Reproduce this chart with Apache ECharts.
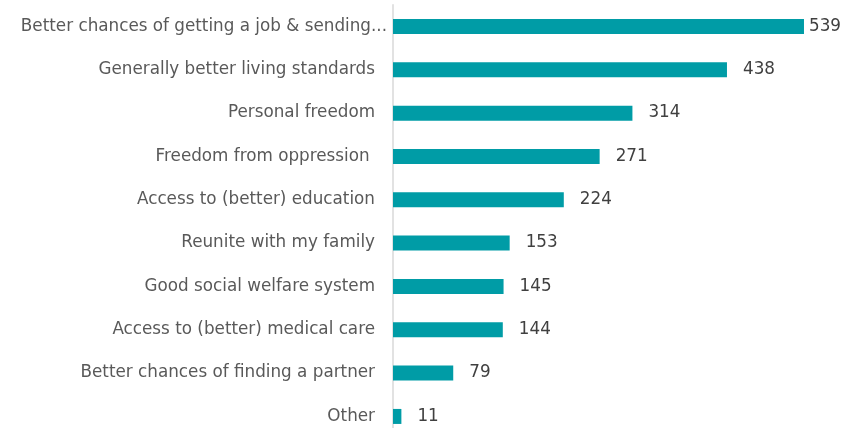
<!DOCTYPE html>
<html><head><meta charset="utf-8">
<script src="https://cdn.jsdelivr.net/npm/echarts@6/dist/echarts.min.js"></script>
<style>html,body{margin:0;padding:0;background:#fff;overflow:hidden}#c{width:863px;height:440px}</style>
</head><body><div id="c"></div>
<script>
const categories = [
  "Better chances of getting a job & sending...",
  "Generally better living standards",
  "Personal freedom",
  "Freedom from oppression ",
  "Access to (better) education",
  "Reunite with my family",
  "Good social welfare system",
  "Access to (better) medical care",
  "Better chances of finding a partner",
  "Other"
];
const values = [539, 438, 314, 271, 224, 153, 145, 144, 79, 11];

const FONT = 'DejaVu Sans';
const chart = echarts.init(document.getElementById('c'));
chart.setOption({
  animation: false,
  grid: { left: 393, top: 4.8, width: 457.5, height: 433.3, containLabel: false },
  xAxis: { type: 'value', min: 0, max: 600, show: false },
  yAxis: {
    type: 'category', inverse: true, data: categories.map((c, i) => i === 0 ? { value: c, textStyle: { padding: [0, -12, 0, 0] } } : c),
    axisLine: { show: true, lineStyle: { color: '#d9d9d9', width: 1.5 } },
    axisTick: { show: false },
    axisLabel: { color: '#595959', fontSize: 16.8, fontFamily: FONT, margin: 18 }
  },
  series: [{
    type: 'bar', barWidth: 15,
    data: values.map((v, i) => i === 0 ? { value: v, label: { distance: 5 } } : v),
    itemStyle: { color: '#009CA6' },
    label: { show: true, position: 'right', distance: 16, color: '#404040', fontSize: 16.8, fontFamily: FONT }
  }]
});
</script></body></html>
